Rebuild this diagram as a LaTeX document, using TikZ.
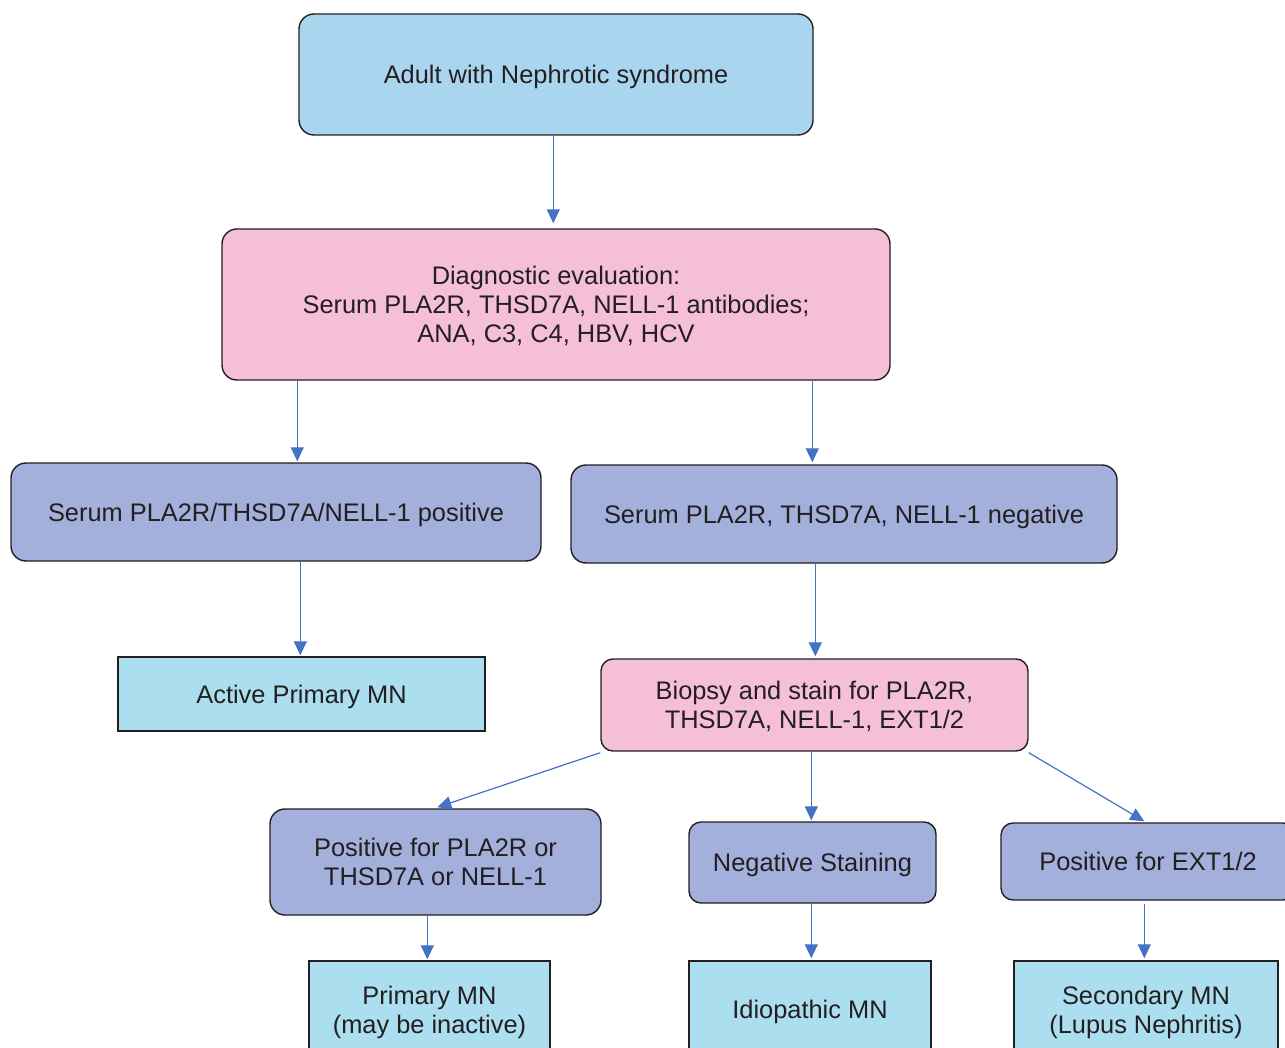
\documentclass[tikz,border=0pt]{standalone}
\usepackage{fontspec}
\setmainfont{Liberation Sans}
\usepackage{xcolor}
\usetikzlibrary{arrows.meta,calc}
\definecolor{startblue}{HTML}{AAD5EF}
\definecolor{evalpink}{HTML}{F5BFD8}
\definecolor{testlav}{HTML}{A3B0DB}
\definecolor{outcyan}{HTML}{ABDFEF}
\definecolor{arrowblue}{HTML}{4472C4}
\definecolor{inkgray}{HTML}{231F20}

\begin{document}
\begin{tikzpicture}[
  x=0.5pt,y=-0.5pt,
  every node/.style={font=\fontsize{12.7}{14.5}\selectfont,align=center,
                     text=inkgray,text depth=0pt},
  box/.style={draw=inkgray,line width=0.7pt,rounded corners=7.5pt,
              inner sep=0pt},
  start/.style={box,fill=startblue},
  evalbox/.style={box,fill=evalpink},
  test/.style={box,fill=testlav},
  outcome/.style={box,rounded corners=0pt,fill=outcyan},
  arr/.style={-{Triangle[length=7pt,width=6.5pt]},arrowblue,line width=0.6pt}
]
\useasboundingbox (0,0) rectangle (1285,1048);
\clip (0,0) rectangle (1285,1048);
\node[start,minimum width=257pt,minimum height=60.5pt] (adult) at (556,74.5)
  {Adult with Nephrotic syndrome};
\node[evalbox,minimum width=334pt,minimum height=75.5pt] (diag) at (556,304.5)
  {Diagnostic evaluation:\\
   Serum PLA2R, THSD7A, NELL-1 antibodies;\\
   ANA, C3, C4, HBV, HCV};
\node[test,minimum width=265pt,minimum height=49pt] (pos) at (276,512)
  {Serum PLA2R/THSD7A/NELL-1 positive};
\node[test,minimum width=273pt,minimum height=49pt] (neg) at (844,514)
  {Serum PLA2R, THSD7A, NELL-1 negative};
\node[outcome,minimum width=183.5pt,minimum height=37pt] (active) at (301.5,694)
  {Active Primary MN};
\node[evalbox,rounded corners=6pt,minimum width=213.5pt,minimum height=46pt]
  (biopsy) at (814.5,705)
  {Biopsy and stain for PLA2R,\\THSD7A, NELL-1, EXT1/2};
\node[test,minimum width=165.5pt,minimum height=53pt] (posstain) at (435.5,862)
  {Positive for PLA2R or\\THSD7A or NELL-1};
\node[test,rounded corners=6pt,minimum width=123.5pt,minimum height=40.5pt]
  (negstain) at (812.5,862.5) {Negative Staining};
\node[test,rounded corners=6pt,minimum width=147pt,minimum height=38.5pt]
  (posext) at (1148,861.5) {Positive for EXT1/2};
\node[outcome,minimum width=120.5pt,minimum height=48.5pt] (primary) at (429.5,1009.5)
  {Primary MN\\(may be inactive)};
\node[outcome,minimum width=121pt,minimum height=48.5pt] (idio) at (810,1009.5)
  {Idiopathic MN};
\node[outcome,minimum width=132pt,minimum height=48.5pt] (secondary) at (1146,1009.5)
  {Secondary MN\\(Lupus Nephritis)};
\draw[arr] ($(adult.south west)+(255,0)$) -- ($(diag.north west)+(332,-5)$);
\draw[arr] ($(diag.south west)+(76,0)$) -- ($(pos.north west)+(287,-1)$);
\draw[arr] ($(diag.south west)+(591,0)$) -- ($(neg.north west)+(242,-2)$);
\draw[arr] ($(pos.south west)+(290,0)$) -- ($(active.north west)+(183,-1)$);
\draw[arr] ($(neg.south west)+(245,0)$) -- ($(biopsy.north west)+(215,-2)$);
\draw[arr] ($(biopsy.south west)+(0,1)$) -- ($(posstain.north west)+(168,-1)$);
\draw[arr] ($(biopsy.south west)+(211,0)$) -- ($(negstain.north west)+(123,-1)$);
\draw[arr] ($(biopsy.south east)+(0,1)$) -- ($(posext.north west)+(144,-1)$);
\draw[arr] ($(posstain.south west)+(158,0)$) -- ($(primary.north west)+(119,-1)$);
\draw[arr] ($(negstain.south west)+(123,0)$) -- ($(idio.north west)+(123,-2)$);
\draw[arr] ($(posext.south west)+(144,3)$) -- ($(secondary.north west)+(131,-2)$);
\end{tikzpicture}
\end{document}
